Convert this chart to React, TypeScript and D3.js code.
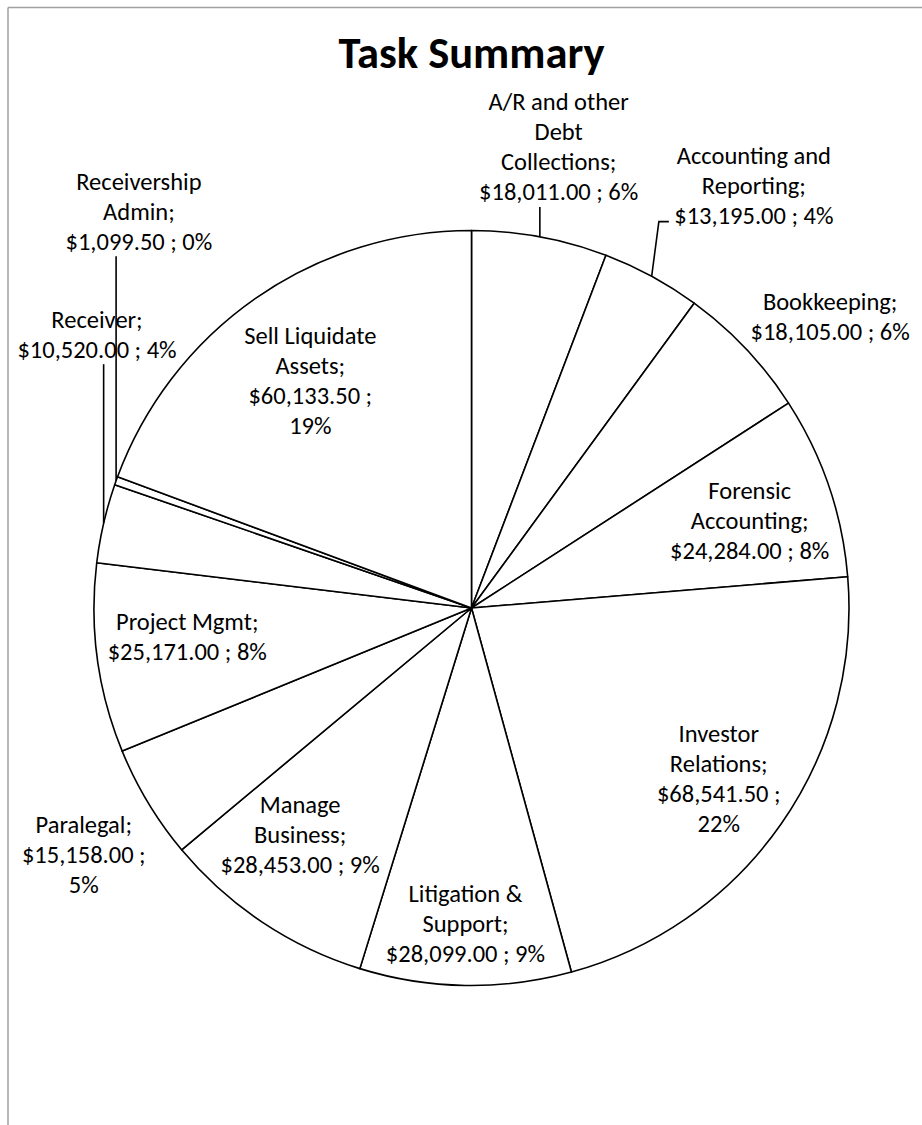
import React from "react";
import * as d3 from "d3";

// ---- data ----
const categories: string[] = [
  "A/R and other Debt Collections",
  "Accounting and Reporting",
  "Bookkeeping",
  "Forensic Accounting",
  "Investor Relations",
  "Litigation & Support",
  "Manage Business",
  "Paralegal",
  "Project Mgmt",
  "Receiver",
  "Receivership Admin",
  "Sell Liquidate Assets",
];
const values: number[] = [
  18011, 13195, 18105, 24284, 68541.5, 28099, 28453, 15158, 25171, 10520, 1099.5, 60133.5,
];
// wrapped category text as shown in the labels
const nameLines: string[][] = [
  ["A/R and other", "Debt", "Collections;"],
  ["Accounting and", "Reporting;"],
  ["Bookkeeping;"],
  ["Forensic", "Accounting;"],
  ["Investor", "Relations;"],
  ["Litigation &", "Support;"],
  ["Manage", "Business;"],
  ["Paralegal;"],
  ["Project Mgmt;"],
  ["Receiver;"],
  ["Receivership", "Admin;"],
  ["Sell Liquidate", "Assets;"],
];
// whether the percentage wraps to its own line
const valueWraps: boolean[] = [false, false, false, false, true, false, false, true, false, false, false, true];
const title = "Task Summary";

// ---- layout (label anchor offsets as fraction of radius, leader style) ----
const labelLayout: { fx: number; fy: number; leader: "none" | "vertical" | "elbow" }[] = [
  { fx: 0.231, fy: -1.22, leader: "vertical" },
  { fx: 0.748, fy: -1.119, leader: "elbow" },
  { fx: 0.95, fy: -0.772, leader: "none" },
  { fx: 0.737, fy: -0.231, leader: "none" },
  { fx: 0.655, fy: 0.454, leader: "none" },
  { fx: -0.016, fy: 0.836, leader: "none" },
  { fx: -0.454, fy: 0.602, leader: "none" },
  { fx: -1.027, fy: 0.653, leader: "none" },
  { fx: -0.753, fy: 0.077, leader: "none" },
  { fx: -0.992, fy: -0.724, leader: "vertical" },
  { fx: -0.881, fy: -1.05, leader: "vertical" },
  { fx: -0.427, fy: -0.602, leader: "none" },
];

const W = 922;
const H = 1125;
const cx = 471.5;
const cy = 608;
const R = 377.5;
const LINE = 30;
const FONT = "Calibri, Carlito, Lato, sans-serif";

// percentages rounded so they add up to 100 (largest remainder)
function roundedPercents(vals: number[]): number[] {
  const total = d3.sum(vals);
  const raw = vals.map((v) => (v / total) * 100);
  const floors = raw.map((p) => Math.floor(p));
  let rest = 100 - d3.sum(floors);
  const order = raw
    .map((p, i) => ({ i, r: p - Math.floor(p) }))
    .sort((a, b) => b.r - a.r);
  const out = [...floors];
  for (let k = 0; k < order.length && rest > 0; k++, rest--) out[order[k].i] += 1;
  return out;
}

export default function App() {
  const pie = d3
    .pie<number>()
    .sort(null)
    .value((d) => d)
    .startAngle(0)
    .endAngle(2 * Math.PI);
  const arcs = pie(values);
  const arcGen = d3.arc<d3.PieArcDatum<number>>().innerRadius(0).outerRadius(R);
  const money = d3.format("$,.2f");
  const pcts = roundedPercents(values);

  return (
    <svg
      width={W}
      height={H}
      style={{ position: "absolute", left: 0, top: 0, background: "#fff" }}
      fontFamily={FONT}
    >
      <rect x={0} y={0} width={W} height={H} fill="#fff" />
      <line x1={8} y1={7.5} x2={W} y2={7.5} stroke="#a0a0a0" strokeWidth={1.5} />
      <line x1={8} y1={7.5} x2={8} y2={H} stroke="#a0a0a0" strokeWidth={1.5} />
      <text
        x={cx}
        y={68}
        textAnchor="middle"
        fontWeight="bold"
        fontSize={44.5}
        fill="#000"
      >
        {title}
      </text>
      <g transform={`translate(${cx},${cy})`}>
        {arcs.map((a, i) => (
          <path key={categories[i]} d={arcGen(a) || ""} fill="#fff" stroke="#000" strokeWidth={1.6} strokeLinejoin="round" />
        ))}
      </g>
      {arcs.map((a, i) => {
        const lay = labelLayout[i];
        const lx = cx + lay.fx * R;
        const ly = cy + lay.fy * R;
        const v = values[i];
        const pct = pcts[i] + "%";
        const lines = [...nameLines[i]];
        if (valueWraps[i]) {
          lines.push(money(v) + " ;");
          lines.push(pct);
        } else {
          lines.push(money(v) + " ; " + pct);
        }
        const n = lines.length;
        const top = ly - ((n - 1) * LINE) / 2;
        const mid = (a.startAngle + a.endAngle) / 2;
        const ax = cx + R * Math.sin(mid);
        const ay = cy - R * Math.cos(mid);
        let leader: React.ReactNode = null;
        if (lay.leader === "vertical") {
          const bottom = top + (n - 1) * LINE + 14.5;
          leader = <line x1={ax} y1={ay} x2={ax} y2={bottom} stroke="#000" strokeWidth={1.6} />;
        } else if (lay.leader === "elbow") {
          const ey = top + (n - 1) * LINE + 6;
          leader = (
            <polyline
              points={`${ax},${ay} ${lx - 95},${ey} ${lx - 85},${ey}`}
              fill="none"
              stroke="#000"
              strokeWidth={1.6}
            />
          );
        }
        return (
          <g key={"lab" + i}>
            {leader}
            <text textAnchor="middle" fontSize={24.5} fill="#000">
              {lines.map((t, k) => (
                <tspan key={k} x={lx} y={top + k * LINE} dominantBaseline="central">
                  {t}
                </tspan>
              ))}
            </text>
          </g>
        );
      })}
    </svg>
  );
}
